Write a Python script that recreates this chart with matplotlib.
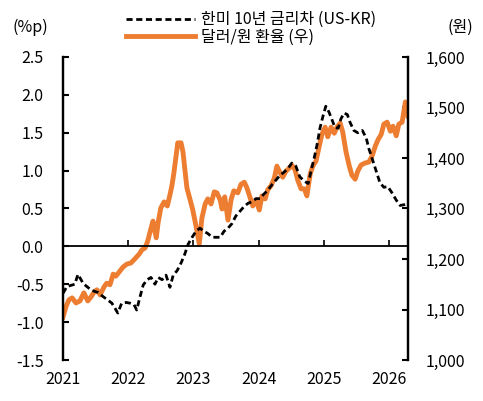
import numpy as np
import matplotlib.pyplot as plt

plt.rcParams['font.family'] = ['Noto Sans CJK KR', 'DejaVu Sans']
plt.rcParams['font.weight'] = 'light'
plt.rcParams['font.size'] = 11.5
plt.rcParams['axes.unicode_minus'] = False

# 한미 10년 금리차 (US-KR), %p
spread_t = [2021.00, 2021.06, 2021.14, 2021.18, 2021.23, 2021.31, 2021.38, 2021.44,
            2021.54, 2021.61, 2021.69, 2021.75, 2021.80, 2021.84, 2021.90, 2021.97,
            2022.03, 2022.09, 2022.13, 2022.18, 2022.23, 2022.29, 2022.35, 2022.41,
            2022.46, 2022.52, 2022.58, 2022.64, 2022.69, 2022.75, 2022.81, 2022.86,
            2022.92, 2022.98, 2023.04, 2023.10, 2023.16, 2023.22, 2023.29, 2023.35,
            2023.41, 2023.47, 2023.53, 2023.59, 2023.65, 2023.71, 2023.78, 2023.84,
            2023.90, 2023.96, 2024.02, 2024.08, 2024.14, 2024.21, 2024.27, 2024.33,
            2024.39, 2024.45, 2024.51, 2024.57, 2024.63, 2024.70, 2024.76, 2024.80,
            2024.85, 2024.90, 2024.94, 2024.99, 2025.03, 2025.08, 2025.13, 2025.17,
            2025.22, 2025.26, 2025.31, 2025.36, 2025.40, 2025.46, 2025.52, 2025.59,
            2025.65, 2025.69, 2025.74, 2025.80, 2025.86, 2025.92, 2025.98, 2026.05,
            2026.11, 2026.17, 2026.23, 2026.29]
spread = [-0.62, -0.53, -0.51, -0.50, -0.37, -0.49, -0.54, -0.58,
          -0.61, -0.66, -0.71, -0.75, -0.82, -0.88, -0.75, -0.74,
          -0.75, -0.77, -0.84, -0.67, -0.51, -0.44, -0.41, -0.50,
          -0.41, -0.44, -0.38, -0.54, -0.38, -0.32, -0.22, -0.12,
          0.03, 0.12, 0.20, 0.24, 0.20, 0.17, 0.12, 0.12,
          0.12, 0.20, 0.24, 0.30, 0.40, 0.46, 0.53, 0.57,
          0.59, 0.63, 0.63, 0.69, 0.74, 0.82, 0.88, 0.94,
          0.98, 1.03, 1.10, 1.06, 0.92, 0.86, 0.83, 0.98,
          1.16, 1.36, 1.56, 1.73, 1.85, 1.77, 1.66, 1.57,
          1.56, 1.68, 1.76, 1.74, 1.64, 1.53, 1.50, 1.53,
          1.43, 1.29, 1.16, 1.00, 0.84, 0.78, 0.79, 0.70,
          0.61, 0.54, 0.55, 0.57]

# 달러/원 환율 (우), 원
fx_t = [2021.00, 2021.05, 2021.09, 2021.14, 2021.20, 2021.26, 2021.32, 2021.38,
        2021.43, 2021.48, 2021.52, 2021.57, 2021.63, 2021.67, 2021.72, 2021.77,
        2021.81, 2021.86, 2021.92, 2021.98, 2022.04, 2022.10, 2022.17, 2022.21,
        2022.26, 2022.30, 2022.35, 2022.38, 2022.43, 2022.46, 2022.50, 2022.55,
        2022.60, 2022.64, 2022.67, 2022.70, 2022.73, 2022.76, 2022.81, 2022.84,
        2022.87, 2022.90, 2022.95, 2022.99, 2023.04, 2023.09, 2023.13, 2023.18,
        2023.22, 2023.27, 2023.32, 2023.36, 2023.41, 2023.44, 2023.48, 2023.53,
        2023.58, 2023.62, 2023.68, 2023.73, 2023.78, 2023.82, 2023.87, 2023.91,
        2023.96, 2024.01, 2024.05, 2024.10, 2024.14, 2024.19, 2024.24, 2024.28,
        2024.33, 2024.37, 2024.42, 2024.47, 2024.51, 2024.56, 2024.60, 2024.65,
        2024.70, 2024.74, 2024.79, 2024.83, 2024.88, 2024.93, 2024.97, 2025.02,
        2025.06, 2025.11, 2025.16, 2025.20, 2025.25, 2025.29, 2025.34, 2025.39,
        2025.43, 2025.48, 2025.52, 2025.57, 2025.63, 2025.69, 2025.74, 2025.79,
        2025.83, 2025.88, 2025.92, 2025.97, 2026.02, 2026.06, 2026.11, 2026.15,
        2026.20, 2026.25, 2026.29]
fx = [1085, 1107, 1119, 1123, 1113, 1117, 1133, 1117,
      1125, 1135, 1139, 1129, 1145, 1152, 1149, 1170,
      1166, 1174, 1184, 1190, 1192, 1200, 1210, 1218,
      1222, 1236, 1261, 1275, 1242, 1273, 1301, 1313,
      1305, 1327, 1345, 1370, 1400, 1430, 1430, 1412,
      1376, 1341, 1317, 1297, 1265, 1230, 1281, 1309,
      1319, 1309, 1333, 1331, 1317, 1299, 1323, 1277,
      1319, 1335, 1331, 1348, 1352, 1341, 1321, 1305,
      1317, 1297, 1325, 1319, 1337, 1345, 1360, 1384,
      1370, 1362, 1374, 1380, 1386, 1376, 1356, 1339,
      1339, 1325, 1368, 1384, 1394, 1424, 1447, 1461,
      1442, 1461, 1449, 1461, 1469, 1451, 1412, 1384,
      1366, 1358, 1374, 1386, 1390, 1392, 1404, 1424,
      1436, 1447, 1467, 1471, 1453, 1463, 1444, 1467,
      1471, 1511, 1483]

years = [2021, 2022, 2023, 2024, 2025, 2026]
left_ticks = [-1.5, -1.0, -0.5, 0.0, 0.5, 1.0, 1.5, 2.0, 2.5]
right_ticks = [1000, 1100, 1200, 1300, 1400, 1500, 1600]

orange = '#ED7D31'

fig = plt.figure(figsize=(4.83, 4.01), dpi=100)
ax = fig.add_axes([0.1304, 0.1022, 0.7143, 0.7557])
ax2 = ax.twinx()

l1, = ax.plot(spread_t, spread, color='black', lw=2.0, ls=(0, (2.2, 1.3)),
              label='한미 10년 금리차 (US-KR)')
l2, = ax2.plot(fx_t, fx, color=orange, lw=3.5, solid_joinstyle='round',
               label='달러/원 환율 (우)')

# dashed line drawn over the orange one
ax.set_zorder(ax2.get_zorder() + 1)
ax.patch.set_visible(False)

ax.set_xlim(2021, 2026.29)
ax.set_ylim(-1.5, 2.5)
ax2.set_ylim(1000, 1600)

ax.set_yticks(left_ticks)
ax.set_yticklabels(['%.1f' % v for v in left_ticks])
ax2.set_yticks(right_ticks)
ax2.set_yticklabels(['{:,}'.format(v) for v in right_ticks])

for a in (ax, ax2):
    a.spines['top'].set_visible(False)
    a.spines['left'].set_linewidth(1.6)
    a.spines['right'].set_linewidth(1.6)
ax2.spines['bottom'].set_visible(False)
ax.spines['bottom'].set_position(('data', 0))
ax.spines['bottom'].set_linewidth(1.3)

ax.tick_params(axis='y', direction='in', length=4, width=1.5, pad=14)
ax2.tick_params(axis='y', direction='in', length=4, width=1.5, pad=13)
ax.set_xticks(years)
ax.tick_params(axis='x', direction='in', length=4, width=1.2, labelbottom=False)

sec = ax.secondary_xaxis('bottom')
sec.set_xticks(years)
sec.set_xticklabels([str(y) for y in years])
sec.tick_params(length=0, pad=8)
sec.spines['bottom'].set_visible(False)

fig.text(30 / 483, 1 - 27 / 401, '(%p)', ha='center', va='center')
fig.text(460 / 483, 1 - 27 / 401, '(원)', ha='center', va='center')

fig.legend(handles=[l1, l2], loc='upper left', bbox_to_anchor=(115 / 483, 1.0),
           frameon=False, handlelength=4.3, handletextpad=0.4, labelspacing=0.05,
           borderpad=0.2)

fig.savefig('out.png', dpi=100)
